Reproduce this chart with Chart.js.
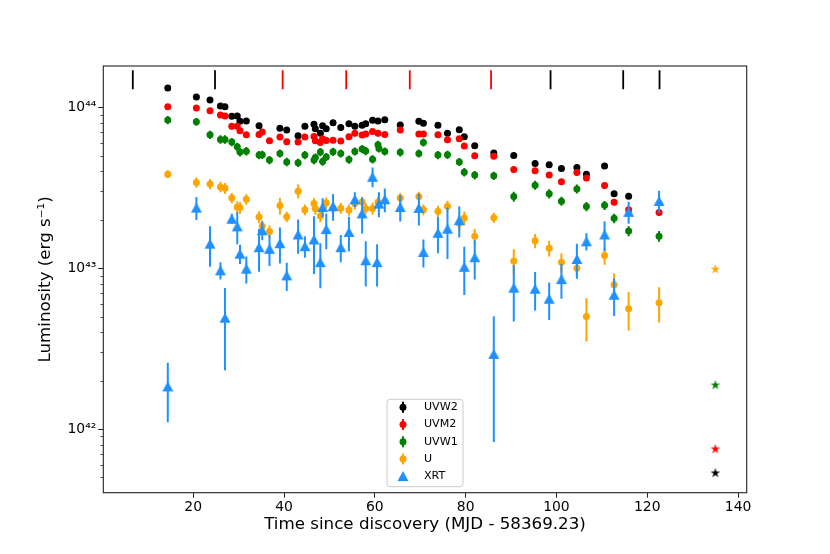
<!DOCTYPE html>
<html>
<head>
<meta charset="utf-8">
<script src="https://cdn.jsdelivr.net/npm/chart.js@4.4.0/dist/chart.umd.min.js"></script>
<style>
  body { margin: 0; background: #fff; }
  canvas { display: block; }
</style>
</head>
<body>
<canvas id="lumChart" width="830" height="554"></canvas>
<script>
// all luminosities below are in units of 1e43 erg/s
const LUM_UNIT = 1e43;

const uvw2Days = [14.4, 20.7, 23.7, 26.0, 27.0, 28.5, 29.7, 30.3, 31.7, 34.5, 39.1, 40.6, 43.1, 44.6, 46.6, 46.9, 48.0, 48.5, 49.3, 50.8,
  52.5, 54.3, 55.6, 57.2, 58.0, 59.5, 60.7, 62.2, 65.6, 69.7, 70.7, 73.9, 76.0, 78.6, 79.7, 82.0, 86.2, 90.6, 95.3, 98.4,
  101.1, 104.5, 106.6, 110.6, 112.7, 115.9];
const uvw2Lum = [13.2, 11.6, 11.1, 10.2, 10.1, 8.79, 8.83, 8.18, 8.22, 7.68, 7.40, 7.22, 6.65, 7.64, 7.84, 7.36, 6.89, 7.68, 7.36, 8.02,
  7.50, 7.90, 7.62, 7.73, 7.90, 8.30, 8.22, 8.37, 7.76, 8.18, 7.95, 7.73, 6.89, 7.25, 6.56, 5.77, 5.21, 5.02, 4.48, 4.39,
  4.17, 4.23, 3.84, 4.31, 2.90, 2.80];

const uvm2Days = [14.4, 20.7, 23.7, 26.0, 27.0, 28.5, 29.7, 30.3, 31.7, 34.5, 35.2, 36.8, 39.1, 40.6, 43.1, 44.6, 46.6, 46.9, 48.0, 48.5,
  49.3, 50.8, 52.5, 54.3, 55.6, 57.2, 58.0, 59.5, 60.7, 62.2, 65.6, 69.7, 70.7, 73.9, 76.0, 78.6, 79.7, 82.0, 86.2, 90.6,
  95.3, 98.4, 101.1, 104.5, 106.6, 110.6, 112.7, 115.9, 122.6];
const uvm2Lum = [10.1, 9.90, 9.53, 8.95, 8.82, 7.62, 7.64, 7.15, 6.75, 6.79, 7.02, 6.19, 6.53, 6.11, 6.08, 6.53, 6.59, 6.19, 6.05, 6.37,
  6.23, 6.25, 6.17, 6.56, 6.89, 6.72, 6.82, 7.08, 6.89, 6.79, 7.22, 6.82, 6.82, 6.75, 6.29, 6.37, 5.74, 5.00, 4.97, 4.11,
  4.03, 3.79, 3.44, 3.94, 3.64, 3.27, 2.57, 2.31, 2.22];
const uvm2Err = [0.40, 0.35, 0.35, 0.30, 0.30, 0.30, 0.30, 0.28, 0.27, 0.27, 0.28, 0.25, 0.26, 0.24, 0.24, 0.26, 0.26, 0.25, 0.24, 0.25,
  0.25, 0.25, 0.25, 0.26, 0.27, 0.27, 0.27, 0.28, 0.27, 0.27, 0.29, 0.27, 0.27, 0.27, 0.25, 0.25, 0.23, 0.20, 0.20, 0.17,
  0.16, 0.15, 0.14, 0.16, 0.15, 0.14, 0.11, 0.10, 0.10];

const uvw1Days = [14.4, 20.7, 23.7, 26.0, 27.0, 28.5, 29.7, 30.3, 31.7, 34.5, 35.2, 36.8, 39.1, 40.6, 43.1, 44.6, 46.6, 46.9, 48.0, 48.5,
  49.3, 50.8, 52.5, 54.3, 55.6, 57.2, 58.0, 59.5, 60.7, 60.9, 62.2, 65.6, 69.7, 70.7, 73.9, 76.0, 78.6, 79.7, 82.0, 86.2,
  90.6, 95.3, 98.4, 101.1, 104.5, 106.6, 110.6, 112.7, 115.9, 122.6];
const uvw1Lum = [8.34, 8.13, 6.75, 6.32, 6.32, 6.08, 5.68, 5.27, 5.34, 5.05, 5.07, 4.70, 5.17, 4.58, 4.52, 5.05, 4.70, 4.88, 5.27, 4.61,
  4.92, 5.29, 5.17, 4.74, 5.32, 5.50, 5.35, 4.76, 5.85, 5.55, 5.32, 5.25, 5.17, 6.05, 5.05, 5.07, 4.58, 3.95, 3.79, 3.75,
  2.79, 3.28, 2.90, 2.61, 3.11, 2.42, 2.46, 2.04, 1.70, 1.58];
const uvw1Err = [0.50, 0.45, 0.40, 0.38, 0.38, 0.36, 0.34, 0.32, 0.32, 0.30, 0.30, 0.28, 0.30, 0.28, 0.27, 0.30, 0.28, 0.29, 0.31, 0.28,
  0.29, 0.31, 0.30, 0.28, 0.31, 0.32, 0.31, 0.28, 0.34, 0.32, 0.31, 0.31, 0.30, 0.35, 0.30, 0.30, 0.27, 0.24, 0.23, 0.22,
  0.20, 0.21, 0.19, 0.17, 0.20, 0.16, 0.16, 0.14, 0.12, 0.12];

const uDays = [14.4, 20.7, 23.7, 26.0, 27.0, 28.5, 29.7, 30.3, 31.7, 34.5, 35.2, 36.8, 39.1, 40.6, 43.1, 44.6, 46.6, 46.9, 48.0, 49.3,
  50.8, 52.5, 54.3, 55.6, 57.2, 58.0, 59.5, 60.7, 65.6, 69.7, 70.7, 73.9, 76.0, 78.6, 79.7, 82.0, 86.2, 90.6, 95.3, 98.4,
  101.1, 104.5, 106.6, 110.6, 112.7, 115.9, 122.6];
const uLum = [3.84, 3.41, 3.34, 3.20, 3.14, 2.73, 2.39, 2.38, 2.68, 2.08, 1.82, 1.69, 2.45, 2.09, 3.01, 2.31, 2.52, 2.35, 2.11, 2.55,
  2.35, 2.36, 2.30, 2.52, 2.58, 2.35, 2.35, 2.58, 2.73, 2.79, 2.31, 2.26, 2.43, 1.90, 2.05, 1.58, 2.06, 1.11, 1.48, 1.33,
  1.09, 1.00, 0.50, 1.20, 0.79, 0.56, 0.61];
const uErr = [0.22, 0.25, 0.25, 0.24, 0.24, 0.20, 0.22, 0.20, 0.20, 0.18, 0.16, 0.15, 0.29, 0.15, 0.30, 0.18, 0.20, 0.20, 0.18, 0.20,
  0.18, 0.18, 0.18, 0.20, 0.20, 0.18, 0.20, 0.20, 0.20, 0.20, 0.18, 0.18, 0.20, 0.20, 0.20, 0.17, 0.15, 0.20, 0.15, 0.15,
  0.15, 0.12, 0.15, 0.15, 0.14, 0.15, 0.15];

const xrtDays = [14.4, 20.7, 23.7, 26.0, 27.0, 28.5, 29.7, 30.3, 31.7, 34.5, 35.2, 36.8, 39.1, 40.6, 43.1, 44.6, 46.6, 48.0, 48.5, 49.3,
  50.8, 52.5, 54.3, 55.6, 57.2, 58.0, 59.5, 60.5, 60.9, 62.2, 65.6, 69.7, 70.7, 73.9, 76.0, 78.6, 79.7, 82.0, 86.2, 90.6,
  95.3, 98.4, 101.1, 104.5, 106.6, 110.6, 112.7, 115.9, 122.6];
const xrtLum = [0.184, 2.38, 1.42, 0.969, 0.492, 2.03, 1.82, 1.23, 0.993, 1.35, 1.72, 1.32, 1.43, 0.902, 1.62, 1.37, 1.51, 1.09, 2.40, 1.75,
  2.43, 1.35, 1.68, 2.68, 2.19, 1.12, 3.70, 1.09, 2.52, 2.68, 2.40, 2.37, 1.26, 1.66, 1.76, 1.99, 1.02, 1.17, 0.293, 0.756,
  0.745, 0.646, 0.855, 1.14, 1.47, 1.62, 0.684, 2.24, 2.62];
const xrtErr = [0.074, 0.39, 0.40, 0.12, 0.26, 0.15, 0.41, 0.17, 0.19, 0.40, 0.23, 0.29, 0.36, 0.18, 0.39, 0.21, 0.59, 0.34, 0.32, 0.44,
  0.46, 0.26, 0.41, 0.29, 0.55, 0.35, 0.52, 0.32, 0.45, 0.45, 0.45, 0.53, 0.25, 0.42, 0.62, 0.44, 0.34, 0.32, 0.21, 0.29,
  0.20, 0.17, 0.21, 0.28, 0.18, 0.34, 0.18, 0.35, 0.41];

// host galaxy level, plotted as stars
const hostDay = 135;
const hostBands = ['UVW2', 'UVM2', 'UVW1', 'U'];
const hostLum = [0.0537, 0.0757, 0.189, 0.993];

// epochs flagged by the short bars along the top
const spectraBlack = [6.7, 24.8, 98.7, 114.7, 122.7];
const spectraRed = [39.7, 53.7, 67.7, 85.6];
const spectraLevel = 14.86;

const xTicks = [20, 40, 60, 80, 100, 120, 140];
const yTicks = [1e42, 1e43, 1e44];
const yTickLabels = ['10⁴²', '10⁴³', '10⁴⁴'];
const legendNames = ['UVW2', 'UVM2', 'UVW1', 'U', 'XRT'];

const bandColor = { UVW2: 'black', UVM2: 'red', UVW1: 'green', U: 'orange', XRT: '#1E90FF' };

function pts(days, lum) {
  return days.map((d, i) => ({ x: d, y: lum[i] * LUM_UNIT }));
}

function triangleImg(color) {
  const c = document.createElement('canvas');
  c.width = 14; c.height = 14;
  const g = c.getContext('2d');
  g.fillStyle = color;
  g.beginPath();
  g.moveTo(7, 2); g.lineTo(12.5, 12); g.lineTo(1.5, 12);
  g.closePath(); g.fill();
  return c;
}

function starImg(color) {
  const c = document.createElement('canvas');
  c.width = 14; c.height = 14;
  const g = c.getContext('2d');
  const R = 5.1, r = R * 0.382;
  g.fillStyle = color;
  g.beginPath();
  for (let k = 0; k < 10; k++) {
    const rad = k % 2 ? r : R;
    const a = -Math.PI / 2 + k * Math.PI / 5;
    g.lineTo(7 + rad * Math.cos(a), 7.5 + rad * Math.sin(a));
  }
  g.closePath(); g.fill();
  return c;
}

const xrtTri = triangleImg(bandColor.XRT);

const decor = {
  id: 'decor',
  beforeDatasetDraw(chart, args) {
    const ds = chart.data.datasets[args.index];
    if (!ds.err) return;
    const { ctx, chartArea: a, scales: { x, y } } = chart;
    ctx.save();
    ctx.beginPath();
    ctx.rect(a.left, a.top, a.right - a.left, a.bottom - a.top);
    ctx.clip();
    ctx.strokeStyle = ds.backgroundColor;
    ctx.lineWidth = 2;
    ds.data.forEach((p, i) => {
      const px = x.getPixelForValue(p.x);
      ctx.beginPath();
      ctx.moveTo(px, y.getPixelForValue(p.y - ds.err[i]));
      ctx.lineTo(px, y.getPixelForValue(p.y + ds.err[i]));
      ctx.stroke();
    });
    ctx.restore();
  },
  afterDraw(chart) {
    const { ctx, chartArea: a, scales: { y } } = chart;
    ctx.save();
    // frame
    ctx.strokeStyle = '#222';
    ctx.lineWidth = 1.1;
    ctx.strokeRect(a.left, a.top, a.right - a.left, a.bottom - a.top);
    // minor log ticks
    ctx.lineWidth = 0.8;
    for (let e = 41; e <= 44; e++) {
      for (let k = 2; k <= 9; k++) {
        const v = k * Math.pow(10, e);
        if (v < y.min || v > y.max) continue;
        const py = Math.round(y.getPixelForValue(v)) + 0.5;
        ctx.beginPath();
        ctx.moveTo(a.left - 2.8, py);
        ctx.lineTo(a.left, py);
        ctx.stroke();
      }
    }
    // legend, lower centre inside the axes
    const w = 76, h = 87.4;
    const lx = (a.left + a.right) / 2 - w / 2, ly = a.bottom - 6 - h;
    ctx.fillStyle = 'rgba(255,255,255,0.8)';
    ctx.strokeStyle = '#cccccc';
    ctx.lineWidth = 1;
    ctx.beginPath();
    ctx.roundRect(lx, ly, w, h, 3);
    ctx.fill(); ctx.stroke();
    ctx.font = '11.1px "DejaVu Sans"';
    ctx.textBaseline = 'middle';
    legendNames.forEach((name, i) => {
      const cy = ly + 8 + i * 17.2, mx = lx + 16;
      const col = bandColor[name];
      if (name === 'XRT') {
        ctx.drawImage(xrtTri, mx - 7, cy - 7);
      } else {
        ctx.strokeStyle = col; ctx.fillStyle = col; ctx.lineWidth = 2;
        ctx.beginPath(); ctx.moveTo(mx, cy - 5.5); ctx.lineTo(mx, cy + 5.5); ctx.stroke();
        ctx.beginPath(); ctx.arc(mx, cy, 3.5, 0, Math.PI * 2); ctx.fill();
      }
      ctx.fillStyle = '#000';
      ctx.fillText(name, lx + 37, cy);
    });
    ctx.restore();
  }
};

function bandSet(name, days, lum, err, order) {
  return {
    label: name,
    data: pts(days, lum),
    err: err ? err.map(e => e * LUM_UNIT) : null,
    backgroundColor: bandColor[name],
    borderColor: bandColor[name],
    pointStyle: 'circle',
    pointRadius: 3.5,
    borderWidth: 0,
    order: order
  };
}

Chart.defaults.font.family = '"DejaVu Sans", sans-serif';
Chart.defaults.color = '#000';

new Chart(document.getElementById('lumChart'), {
  type: 'scatter',
  data: {
    datasets: [
      {
        label: 'XRT',
        data: pts(xrtDays, xrtLum),
        err: xrtErr.map(e => e * LUM_UNIT),
        backgroundColor: bandColor.XRT,
        pointStyle: xrtTri,
        order: 1
      },
      bandSet('U', uDays, uLum, uErr, 2),
      bandSet('UVW1', uvw1Days, uvw1Lum, uvw1Err, 3),
      bandSet('UVM2', uvm2Days, uvm2Lum, uvm2Err, 4),
      bandSet('UVW2', uvw2Days, uvw2Lum, null, 5),
      {
        label: 'host',
        data: hostLum.map(v => ({ x: hostDay, y: v * LUM_UNIT })),
        pointStyle: hostBands.map(b => starImg(bandColor[b])),
        order: 0
      },
      {
        label: 'spectra',
        data: spectraBlack.map(d => ({ x: d, y: spectraLevel * LUM_UNIT })),
        pointStyle: 'line', rotation: 90, pointRadius: 9.5,
        borderColor: 'black', borderWidth: 1.8,
        order: 6
      },
      {
        label: 'spectra2',
        data: spectraRed.map(d => ({ x: d, y: spectraLevel * LUM_UNIT })),
        pointStyle: 'line', rotation: 90, pointRadius: 9.5,
        borderColor: 'red', borderWidth: 1.8,
        order: 6
      }
    ]
  },
  options: {
    responsive: false,
    animation: false,
    events: [],
    layout: { padding: { top: 66, right: 83.3, left: 0, bottom: 0 } },
    plugins: { legend: { display: false }, tooltip: { enabled: false } },
    scales: {
      x: {
        type: 'linear',
        min: 0.2,
        max: 141.9,
        afterBuildTicks: s => { s.ticks = xTicks.map(v => ({ value: v })); },
        afterFit: s => { s.height = 61.3; },
        grid: { drawOnChartArea: false, tickLength: 5, color: '#222', lineWidth: 1 },
        border: { display: false },
        ticks: { font: { size: 13.9 }, padding: 1, maxRotation: 0, autoSkip: false },
        title: {
          display: true,
          text: 'Time since discovery (MJD - 58369.23)',
          font: { size: 16.7 },
          padding: { top: 0, bottom: 19 }
        }
      },
      y: {
        type: 'logarithmic',
        min: Math.pow(10, 41.604),
        max: Math.pow(10, 44.257),
        afterBuildTicks: s => { s.ticks = yTicks.map(v => ({ value: v })); },
        afterFit: s => { s.width = 103.3; },
        grid: { drawOnChartArea: false, tickLength: 5, color: '#222', lineWidth: 1 },
        border: { display: false },
        ticks: {
          font: { size: 13.9 },
          padding: 2,
          autoSkip: false,
          callback: v => yTickLabels[yTicks.indexOf(v)]
        },
        title: {
          display: true,
          text: 'Luminosity (erg s⁻¹)',
          font: { size: 16.7 },
          padding: { top: 36, bottom: 0 }
        }
      }
    }
  },
  plugins: [decor]
});
</script>
</body>
</html>
